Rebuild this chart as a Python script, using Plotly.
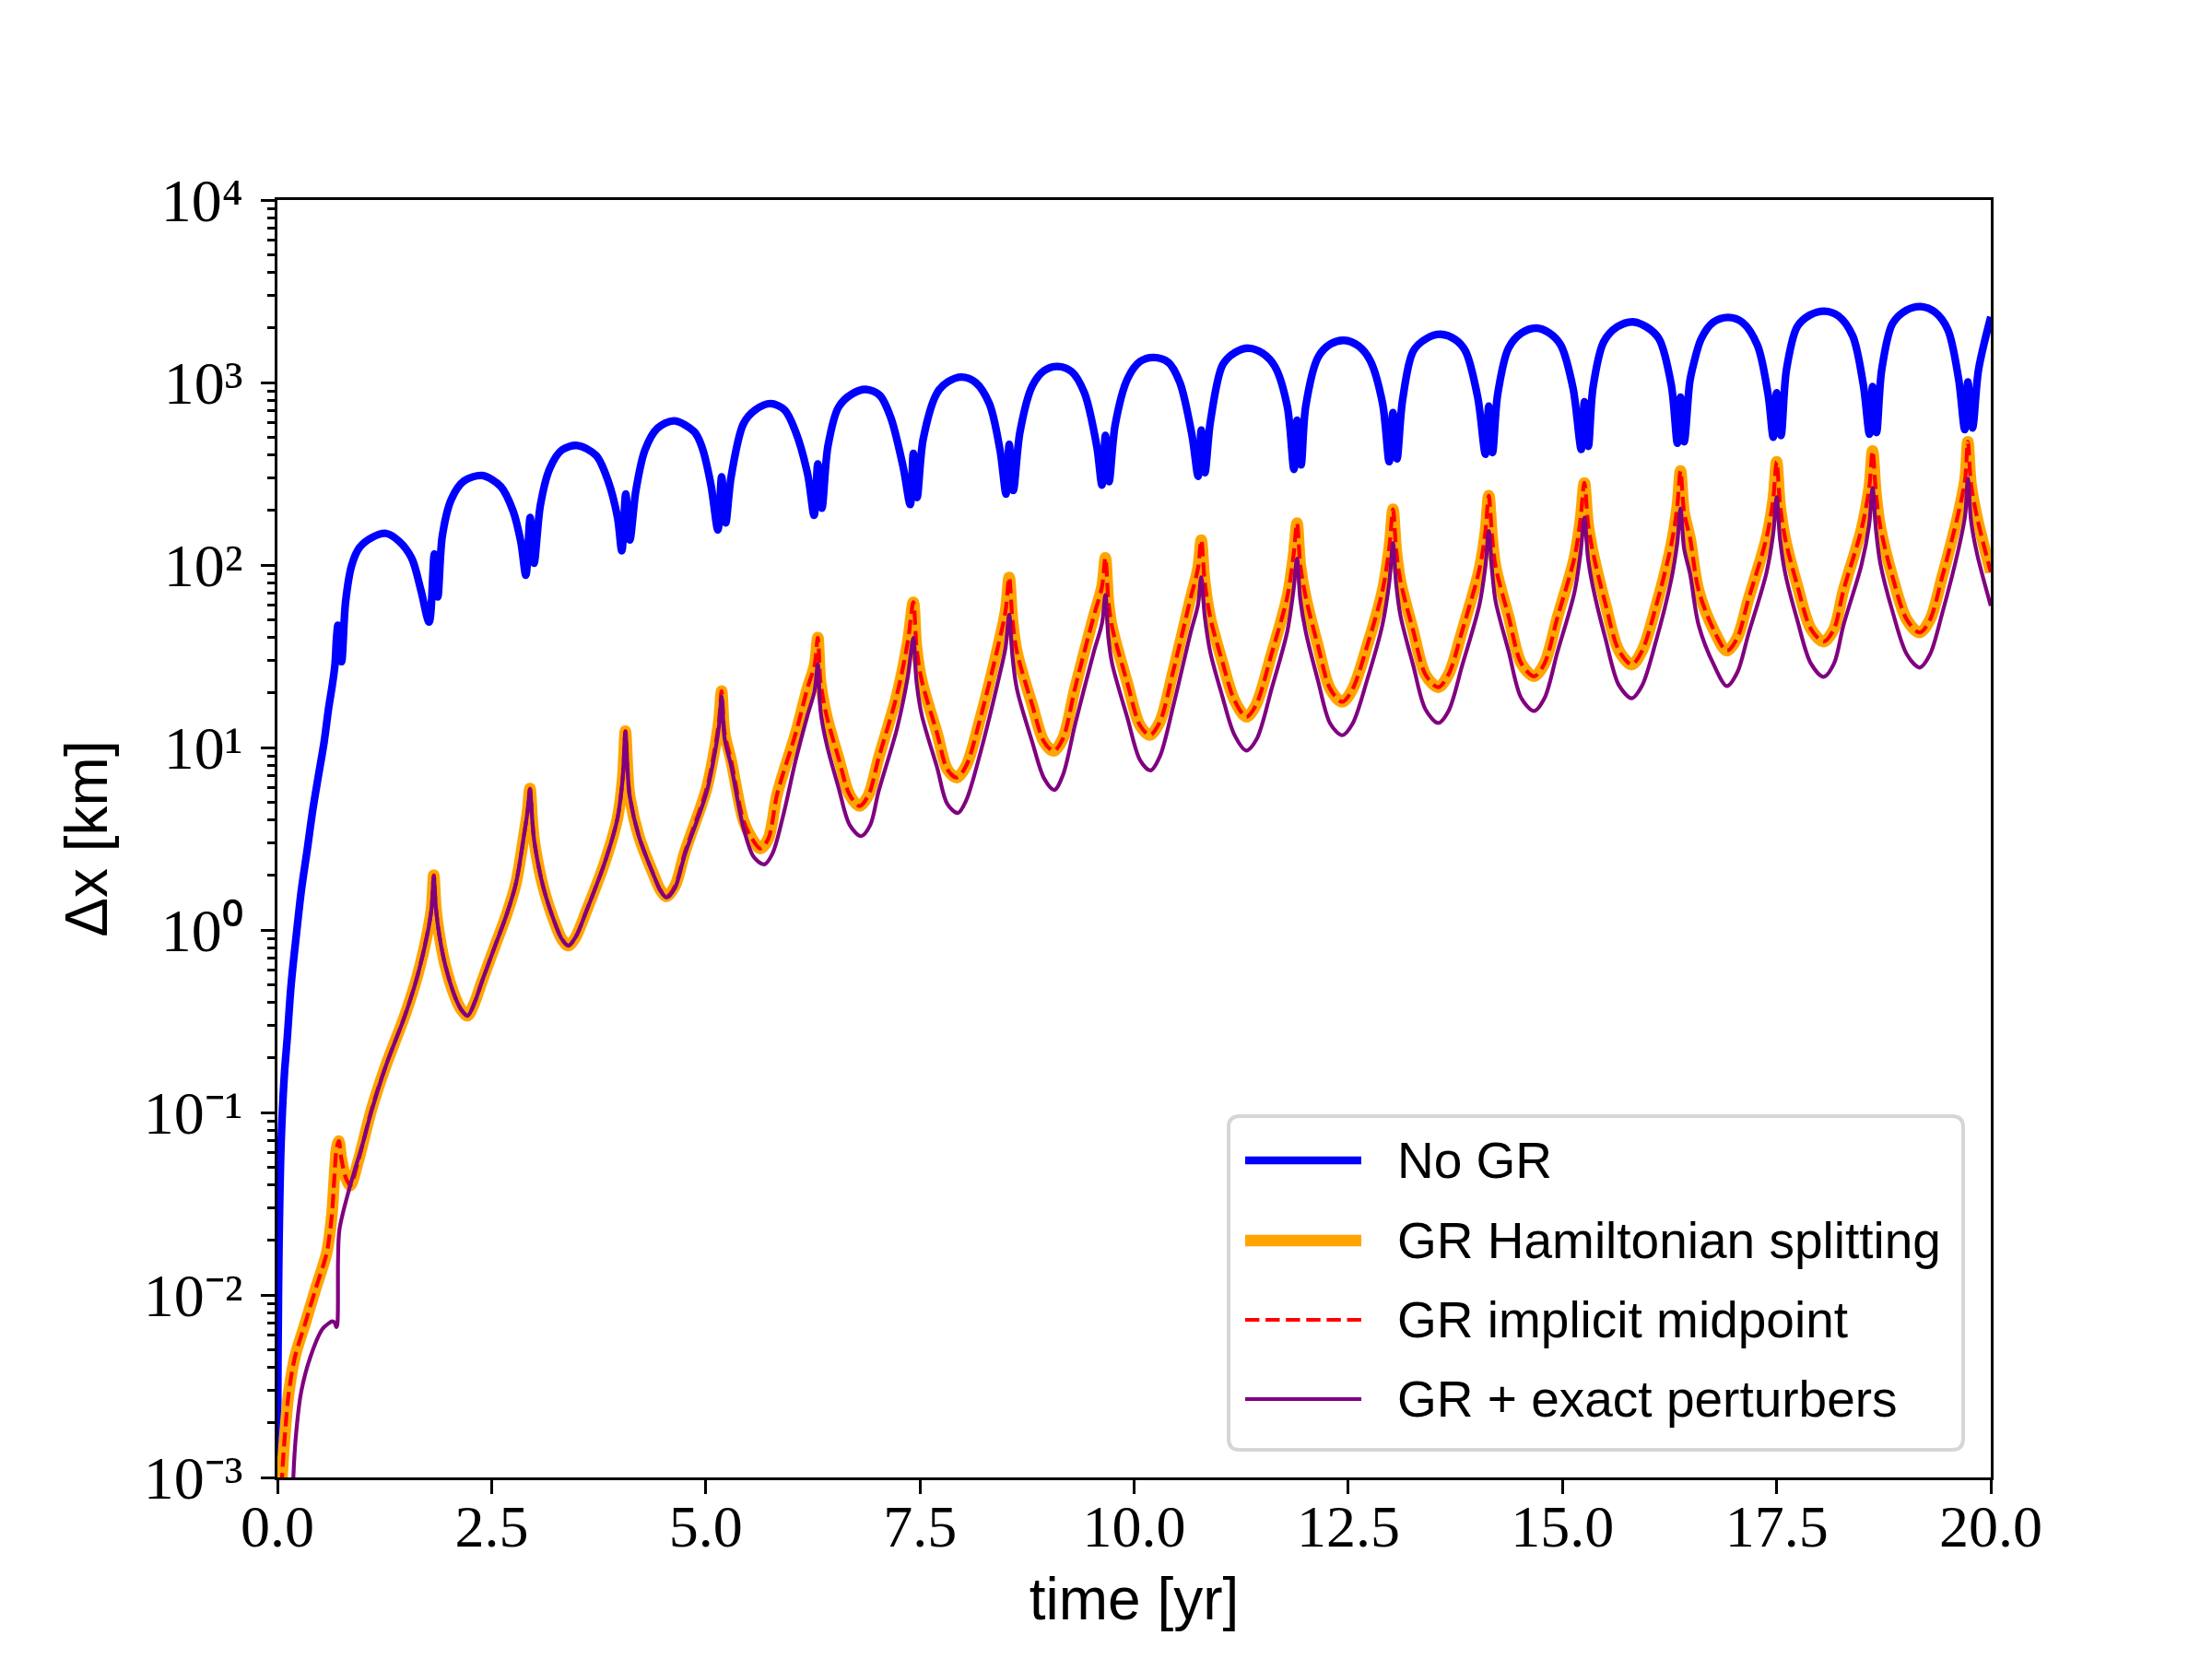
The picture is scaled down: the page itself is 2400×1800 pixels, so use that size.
import numpy as np
import plotly.graph_objects as go

# ---------------- data (time [yr], log10(dx [km])) ----------------
no_gr = [
    (0.000, -3.00), (0.004, -2.60), (0.007, -2.34), (0.018, -1.76), (0.043, -1.17), (0.080, -0.80),
    (0.115, -0.59), (0.160, -0.30), (0.220, -0.03), (0.280, 0.22), (0.348, 0.44), (0.410, 0.65),
    (0.473, 0.83), (0.545, 1.03), (0.599, 1.22), (0.640, 1.34), (0.671, 1.45), (0.690, 1.60),
    (0.706, 1.67), (0.725, 1.55), (0.749, 1.47), (0.796, 1.80), (0.868, 2.00), (0.957, 2.095),
    (1.100, 2.15), (1.269, 2.173), (1.420, 2.13), (1.567, 2.037), (1.675, 1.862),
    (1.771, 1.687), (1.832, 2.060), (1.872, 1.825), (1.925, 2.160), (2.030, 2.360), (2.177, 2.46),
    (2.390, 2.490), (2.607, 2.43), (2.750, 2.297), (2.840, 2.130),
    (2.900, 1.944), (2.950, 2.260), (2.995, 2.010), (3.070, 2.330), (3.180, 2.53), (3.320, 2.63),
    (3.500, 2.655), (3.720, 2.60), (3.860, 2.460), (3.970, 2.260),
    (4.020, 2.078), (4.066, 2.390), (4.113, 2.137), (4.185, 2.410), (4.290, 2.630), (4.436, 2.749),
    (4.630, 2.790), (4.866, 2.73), (4.960, 2.640), (5.060, 2.440),
    (5.142, 2.192), (5.185, 2.483), (5.232, 2.231), (5.296, 2.483), (5.440, 2.774), (5.580, 2.85),
    (5.756, 2.884), (5.920, 2.85), (6.050, 2.729), (6.190, 2.496),
    (6.265, 2.272), (6.308, 2.554), (6.355, 2.311), (6.426, 2.651), (6.550, 2.865), (6.700, 2.935),
    (6.868, 2.962), (7.030, 2.93), (7.160, 2.807), (7.305, 2.535),
    (7.387, 2.331), (7.423, 2.612), (7.466, 2.370), (7.538, 2.690), (7.700, 2.943), (7.830, 3.005),
    (7.986, 3.030), (8.150, 3.00), (8.310, 2.884), (8.434, 2.632),
    (8.506, 2.389), (8.542, 2.661), (8.589, 2.408), (8.668, 2.730), (8.811, 2.981), (8.950, 3.065),
    (9.105, 3.088), (9.270, 3.06), (9.420, 2.943), (9.564, 2.651),
    (9.625, 2.438), (9.665, 2.710), (9.707, 2.457), (9.779, 2.768), (9.923, 3.020), (10.070, 3.115),
    (10.228, 3.137), (10.400, 3.11), (10.533, 3.001), (10.676, 2.710),
    (10.748, 2.486), (10.784, 2.739), (10.826, 2.506), (10.891, 2.787), (11.035, 3.098), (11.180, 3.165),
    (11.340, 3.188), (11.500, 3.16), (11.644, 3.087), (11.788, 2.869),
    (11.866, 2.524), (11.902, 2.793), (11.949, 2.549), (12.003, 2.869), (12.147, 3.138), (12.290, 3.21),
    (12.451, 3.231), (12.620, 3.20), (12.755, 3.121), (12.900, 2.886),
    (12.978, 2.566), (13.022, 2.835), (13.068, 2.582), (13.133, 2.902), (13.258, 3.172), (13.410, 3.24),
    (13.581, 3.264), (13.750, 3.235), (13.868, 3.172), (14.011, 2.919),
    (14.101, 2.607), (14.140, 2.870), (14.183, 2.616), (14.244, 2.936), (14.370, 3.188), (14.520, 3.27),
    (14.693, 3.298), (14.850, 3.27), (14.980, 3.205), (15.123, 2.970),
    (15.220, 2.633), (15.256, 2.894), (15.302, 2.650), (15.356, 2.970), (15.481, 3.222), (15.640, 3.305),
    (15.822, 3.332), (15.980, 3.305), (16.127, 3.239), (16.270, 2.987),
    (16.342, 2.667), (16.378, 2.920), (16.421, 2.675), (16.486, 3.003), (16.530, 3.10), (16.620, 3.24),
    (16.760, 3.33), (16.934, 3.357), (17.100, 3.33), (17.275, 3.205), (17.400, 2.936),
    (17.461, 2.700), (17.500, 2.944), (17.551, 2.709), (17.615, 3.071), (17.741, 3.306), (17.890, 3.37),
    (18.057, 3.391), (18.220, 3.365), (18.387, 3.256), (18.512, 2.987),
    (18.584, 2.717), (18.620, 2.978), (18.666, 2.726), (18.727, 3.071), (18.853, 3.323), (19.010, 3.395),
    (19.183, 3.416), (19.350, 3.385), (19.498, 3.290), (19.624, 3.020),
    (19.696, 2.742), (19.732, 3.003), (19.786, 2.751), (19.857, 3.071), (20.000, 3.36),
]

gr_splitting = [
    (0.020, -3.50), (0.054, -3.00), (0.090, -2.75), (0.133, -2.535), (0.204, -2.341), (0.330, -2.147),
    (0.455, -1.953), (0.540, -1.83), (0.581, -1.758), (0.635, -1.564), (0.663, -1.370), (0.690, -1.20),
    (0.717, -1.156), (0.745, -1.25), (0.800, -1.36), (0.850, -1.40), (0.940, -1.273), (1.100, -0.981),
    (1.262, -0.748), (1.496, -0.457), (1.639, -0.243), (1.754, -0.010), (1.800, 0.12),
    (1.825, 0.300), (1.850, 0.12), (1.890, -0.027), (1.960, -0.195), (2.070, -0.363), (2.150, -0.44),
    (2.220, -0.470), (2.300, -0.40), (2.390, -0.279), (2.535, -0.094), (2.680, 0.091), (2.786, 0.259),
    (2.876, 0.512), (2.920, 0.65), (2.948, 0.775), (2.975, 0.60), (3.000, 0.48), (3.108, 0.226),
    (3.250, 0.024), (3.320, -0.05), (3.396, -0.086), (3.480, -0.04), (3.610, 0.108), (3.826, 0.377),
    (3.970, 0.613), (4.030, 0.83), (4.062, 1.090), (4.090, 0.85), (4.113, 0.731), (4.220, 0.512),
    (4.400, 0.293), (4.470, 0.22), (4.544, 0.184), (4.640, 0.24), (4.757, 0.428), (5.010, 0.775),
    (5.117, 1.027), (5.155, 1.15),
    (5.185, 1.309), (5.220, 1.08), (5.296, 0.930), (5.440, 0.600), (5.540, 0.50),
    (5.637, 0.446), (5.730, 0.50), (5.835, 0.747), (6.050, 1.078), (6.190, 1.330), (6.270, 1.45),
    (6.308, 1.602), (6.340, 1.36), (6.410, 1.175), (6.550, 0.942), (6.680, 0.74),
    (6.796, 0.679), (6.900, 0.74), (7.018, 0.942), (7.233, 1.291), (7.359, 1.582),
    (7.423, 1.796), (7.460, 1.55), (7.520, 1.369), (7.700, 1.078), (7.820, 0.88),
    (7.930, 0.835), (8.040, 0.90), (8.202, 1.155), (8.416, 1.563), (8.500, 1.75),
    (8.542, 1.932), (8.580, 1.70), (8.632, 1.524), (8.811, 1.233), (8.950, 1.03),
    (9.062, 0.981), (9.170, 1.05), (9.313, 1.330), (9.528, 1.718), (9.625, 1.88),
    (9.665, 2.039), (9.700, 1.80), (9.743, 1.660), (9.923, 1.350), (10.070, 1.12),
    (10.185, 1.068), (10.300, 1.14), (10.461, 1.427), (10.658, 1.815), (10.745, 1.98),
    (10.784, 2.136), (10.824, 1.91), (10.890, 1.71), (11.030, 1.47), (11.170, 1.26),
    (11.310, 1.168), (11.420, 1.23), (11.610, 1.522), (11.788, 1.825), (11.860, 2.05),
    (11.902, 2.230), (11.940, 2.00), (12.003, 1.825), (12.147, 1.555), (12.290, 1.32),
    (12.430, 1.250), (12.550, 1.32), (12.720, 1.556), (12.900, 1.860), (12.980, 2.10),
    (13.022, 2.305), (13.060, 2.08), (13.110, 1.910), (13.258, 1.640), (13.400, 1.40),
    (13.550, 1.330), (13.670, 1.40), (13.830, 1.640), (14.030, 1.975), (14.100, 2.18),
    (14.140, 2.380), (14.180, 2.15), (14.220, 1.990), (14.370, 1.720), (14.520, 1.46),
    (14.670, 1.390), (14.790, 1.46), (14.940, 1.710), (15.140, 2.040), (15.210, 2.25),
    (15.256, 2.450), (15.300, 2.22), (15.360, 2.060), (15.500, 1.790), (15.660, 1.53),
    (15.810, 1.455), (15.930, 1.53), (16.090, 1.770), (16.270, 2.110), (16.340, 2.32),
    (16.378, 2.515), (16.420, 2.29), (16.490, 2.145), (16.590, 1.860), (16.770, 1.640),
    (16.920, 1.530), (17.040, 1.60), (17.170, 1.810), (17.380, 2.145), (17.460, 2.36),
    (17.500, 2.566), (17.540, 2.33), (17.600, 2.145), (17.740, 1.890), (17.900, 1.65),
    (18.050, 1.580), (18.170, 1.65), (18.280, 1.860), (18.490, 2.195), (18.580, 2.42),
    (18.620, 2.625), (18.660, 2.39), (18.710, 2.210), (18.850, 1.940), (19.020, 1.70),
    (19.170, 1.630), (19.290, 1.70), (19.430, 1.930), (19.620, 2.280), (19.700, 2.47),
    (19.732, 2.675), (19.770, 2.44), (19.840, 2.260), (20.000, 1.96),
]

# the implicit-midpoint curve lies on top of the splitting curve at this resolution
gr_midpoint = list(gr_splitting)

gr_exact = [
    (0.170, -3.50), (0.186, -3.00), (0.220, -2.75), (0.276, -2.535), (0.384, -2.341), (0.527, -2.186),
    (0.600, -2.155), (0.640, -2.145), (0.665, -2.15), (0.689, -2.176), (0.700, -2.16), (0.708, -1.80),
    (0.724, -1.642), (0.832, -1.43), (0.993, -1.175), (1.100, -0.99), (1.262, -0.75), (1.496, -0.46),
    (1.639, -0.245), (1.754, -0.015), (1.800, 0.12), (1.825, 0.295), (1.850, 0.12), (1.890, -0.03),
    (1.960, -0.195), (2.070, -0.363), (2.150, -0.44), (2.220, -0.470), (2.300, -0.40), (2.390, -0.279),
    (2.535, -0.094), (2.680, 0.091), (2.786, 0.259), (2.876, 0.512), (2.920, 0.65), (2.948, 0.77),
    (2.975, 0.60), (3.000, 0.48), (3.108, 0.226), (3.250, 0.024), (3.320, -0.05), (3.396, -0.086),
    (3.480, -0.04), (3.610, 0.108), (3.826, 0.377), (3.970, 0.613), (4.030, 0.83), (4.062, 1.085),
    (4.090, 0.85), (4.113, 0.731), (4.220, 0.512), (4.400, 0.29), (4.470, 0.215), (4.544, 0.178),
    (4.640, 0.23), (4.757, 0.415), (5.010, 0.755), (5.117, 1.00),
    (5.155, 1.12), (5.185, 1.28), (5.220, 1.05), (5.296, 0.90), (5.440, 0.56), (5.560, 0.40),
    (5.684, 0.359), (5.780, 0.42), (5.900, 0.62), (6.050, 0.93), (6.190, 1.18), (6.270, 1.31),
    (6.308, 1.456), (6.340, 1.20), (6.410, 1.02), (6.550, 0.78), (6.680, 0.575),
    (6.814, 0.514), (6.920, 0.575), (7.018, 0.76), (7.233, 1.105), (7.359, 1.39),
    (7.423, 1.600), (7.460, 1.36), (7.520, 1.18), (7.700, 0.89), (7.820, 0.69),
    (7.943, 0.641), (8.040, 0.71), (8.202, 0.965), (8.416, 1.37), (8.500, 1.55),
    (8.542, 1.728), (8.580, 1.50), (8.632, 1.32), (8.811, 1.03), (8.950, 0.83),
    (9.069, 0.767), (9.170, 0.85), (9.313, 1.13), (9.528, 1.52), (9.625, 1.68),
    (9.665, 1.835), (9.700, 1.60), (9.743, 1.46), (9.923, 1.16), (10.070, 0.93),
    (10.192, 0.874), (10.300, 0.95), (10.461, 1.235), (10.658, 1.625), (10.745, 1.78),
    (10.784, 1.932), (10.824, 1.72), (10.890, 1.52), (11.030, 1.28), (11.170, 1.07),
    (11.310, 0.983), (11.430, 1.045), (11.610, 1.33), (11.788, 1.635), (11.860, 1.86),
    (11.902, 2.035), (11.940, 1.81), (12.003, 1.635), (12.147, 1.365), (12.290, 1.13),
    (12.430, 1.067), (12.550, 1.13), (12.720, 1.37), (12.900, 1.675), (12.980, 1.91),
    (13.022, 2.120), (13.060, 1.89), (13.110, 1.72), (13.258, 1.45), (13.400, 1.21),
    (13.550, 1.134), (13.670, 1.20), (13.830, 1.45), (14.030, 1.78), (14.100, 1.99),
    (14.140, 2.186), (14.180, 1.96), (14.220, 1.80), (14.370, 1.53), (14.520, 1.27),
    (14.670, 1.200), (14.790, 1.27), (14.940, 1.52), (15.140, 1.85), (15.210, 2.06),
    (15.256, 2.260), (15.300, 2.03), (15.360, 1.87), (15.500, 1.60), (15.660, 1.34),
    (15.810, 1.270), (15.930, 1.34), (16.090, 1.58), (16.270, 1.92), (16.340, 2.12),
    (16.378, 2.310), (16.420, 2.09), (16.490, 1.95), (16.590, 1.67), (16.770, 1.45),
    (16.920, 1.336), (17.040, 1.41), (17.170, 1.62), (17.380, 1.955), (17.460, 2.17),
    (17.500, 2.372), (17.540, 2.14), (17.600, 1.955), (17.740, 1.70), (17.900, 1.46),
    (18.050, 1.387), (18.170, 1.46), (18.280, 1.67), (18.490, 2.00), (18.580, 2.22),
    (18.620, 2.423), (18.660, 2.19), (18.710, 2.01), (18.850, 1.75), (19.020, 1.51),
    (19.170, 1.438), (19.290, 1.51), (19.430, 1.73), (19.620, 2.08), (19.700, 2.27),
    (19.732, 2.473), (19.770, 2.24), (19.840, 2.06), (20.000, 1.776),
]

series_names = ["No GR", "GR Hamiltonian splitting", "GR implicit midpoint", "GR + exact perturbers"]
series_colors = ["#0000ff", "#ffa500", "#ff0000", "#800080"]

x_tick_values = [0.0, 2.5, 5.0, 7.5, 10.0, 12.5, 15.0, 17.5, 20.0]
x_tick_labels = ["0.0", "2.5", "5.0", "7.5", "10.0", "12.5", "15.0", "17.5", "20.0"]
y_tick_exponents = [-3, -2, -1, 0, 1, 2, 3, 4]
y_tick_labels = ["10\u207b\u00b3", "10\u207b\u00b2", "10\u207b\u00b9", "10\u2070",
                 "10\u00b9", "10\u00b2", "10\u00b3", "10\u2074"]

# ---------------- figure ----------------
W, H = 2400, 1800
L_M, R_M, T_M, B_M = 301, 240, 217, 197


def unpack(points):
    t = np.array([p[0] for p in points])
    dx = np.power(10.0, np.array([p[1] for p in points]))
    return t, dx


fig = go.Figure()
styles = [
    dict(width=8.3),
    dict(width=12.5),
    dict(width=4.2, dash="15.4px,6.7px"),
    dict(width=4.2),
]
for pts, name, col, st in zip([no_gr, gr_splitting, gr_midpoint, gr_exact], series_names, series_colors, styles):
    t, dx = unpack(pts)
    fig.add_trace(go.Scatter(
        x=t, y=dx, mode="lines", name=name, showlegend=False,
        line=dict(color=col, shape="spline", smoothing=0.9, **st),
        cliponaxis=True,
    ))

minor_vals = [m * 10.0 ** e for e in range(-3, 4) for m in range(2, 10)]

fig.update_layout(
    width=W, height=H,
    margin=dict(l=L_M, r=R_M, t=T_M, b=B_M, autoexpand=False),
    paper_bgcolor="white", plot_bgcolor="white",
    font=dict(family="Liberation Sans", size=64, color="black"),
    xaxis=dict(
        range=[0, 20], tickmode="array", tickvals=x_tick_values, ticktext=x_tick_labels,
        ticks="outside", ticklen=15, tickwidth=3.3, tickcolor="black",
        showline=True, linewidth=3.3, linecolor="black", mirror=True,
        showgrid=False, zeroline=False,
        tickfont=dict(family="Liberation Serif", size=64, color="black"),
        ticklabelstandoff=-20,
        title=dict(text="time [yr]", font=dict(family="Liberation Sans", size=64), standoff=22),
    ),
    yaxis=dict(
        type="log", range=[-3, 4], tickmode="array",
        tickvals=[10.0 ** e for e in y_tick_exponents], ticktext=y_tick_labels,
        ticks="outside", ticklen=15, tickwidth=3.3, tickcolor="black",
        minor=dict(tickmode="array", tickvals=minor_vals, ticks="outside", ticklen=8.3,
                   tickwidth=2.5, tickcolor="black", showgrid=False),
        showline=True, linewidth=3.3, linecolor="black", mirror=True,
        showgrid=False, zeroline=False,
        tickfont=dict(family="Liberation Serif", size=66, color="black"),
        ticklabelstandoff=6,
        title=dict(text="\u0394x [km]", font=dict(family="Liberation Sans", size=64), standoff=19),
    ),
)

# ---------------- legend drawn as a framed box (paper coordinates) ----------------
pw = W - L_M - R_M
ph = H - T_M - B_M


def px_to_paper(px, py):
    return (px - L_M) / pw, (H - B_M - py) / ph


bx0, by0 = px_to_paper(1333, 1573)
bx1, by1 = px_to_paper(2130, 1211)
rx, ry = 12 / pw, 12 / ph
box_path = (
    f"M {bx0 + rx},{by0} L {bx1 - rx},{by0} Q {bx1},{by0} {bx1},{by0 + ry} "
    f"L {bx1},{by1 - ry} Q {bx1},{by1} {bx1 - rx},{by1} "
    f"L {bx0 + rx},{by1} Q {bx0},{by1} {bx0},{by1 - ry} "
    f"L {bx0},{by0 + ry} Q {bx0},{by0} {bx0 + rx},{by0} Z"
)
fig.add_shape(type="path", path=box_path, xref="paper", yref="paper",
              line=dict(color="#d6d6d6", width=4), fillcolor="rgba(255,255,255,0.8)", layer="above")

row_y = [1259, 1346, 1432, 1518]
for name, col, st, ry_px in zip(series_names, series_colors, styles, row_y):
    lx0, ly = px_to_paper(1351, ry_px)
    lx1, _ = px_to_paper(1477, ry_px)
    fig.add_shape(type="line", xref="paper", yref="paper", x0=lx0, x1=lx1, y0=ly, y1=ly,
                  line=dict(color=col, width=st["width"], dash=st.get("dash", "solid")), layer="above")
    tx, _ = px_to_paper(1514, ry_px)
    fig.add_annotation(x=tx, y=ly, xref="paper", yref="paper", text=name, showarrow=False,
                       xanchor="left", yanchor="middle",
                       font=dict(family="Liberation Sans", size=55, color="black"))

fig.write_html("out.html")
